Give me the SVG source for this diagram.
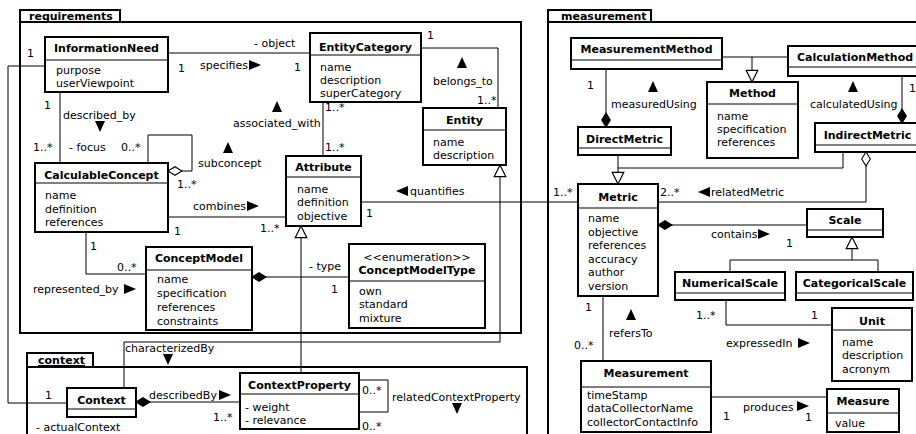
<svg xmlns="http://www.w3.org/2000/svg" width="916" height="434" viewBox="0 0 916 434">
<style>
.pk{fill:#fff;stroke:#000;stroke-width:2}
.bx{fill:#fff;stroke:#000;stroke-width:2}
.dv{stroke:#000;stroke-width:1.2}
.ln{fill:none;stroke:#000;stroke-width:1}
text{font-family:"DejaVu Sans","Noto Sans",sans-serif;font-size:11px;fill:#000}
.b{font-weight:bold}
.c{text-anchor:middle}
.u{text-decoration:underline}
.dir{fill:#000}
</style>
<defs>
<marker id="gen" markerUnits="userSpaceOnUse" markerWidth="14" markerHeight="14" viewBox="0 0 12 12" refX="11" refY="6" orient="auto" overflow="visible"><path d="M1,1 L11,6 L1,11 Z" fill="#fff" stroke="#000" stroke-width="1"/></marker>
<marker id="dia" markerUnits="userSpaceOnUse" markerWidth="15" markerHeight="11" viewBox="0 0 14 10" refX="13.5" refY="5" orient="auto" overflow="visible"><path d="M0.5,5 L7,1 L13.5,5 L7,9 Z" fill="#000" stroke="#000" stroke-width="1"/></marker>
<marker id="odia" markerUnits="userSpaceOnUse" markerWidth="15" markerHeight="11" viewBox="0 0 14 10" refX="13.5" refY="5" orient="auto" overflow="visible"><path d="M0.5,5 L7,1 L13.5,5 L7,9 Z" fill="#fff" stroke="#000" stroke-width="1"/></marker>
<path id="tR" d="M-6,-5 L6,0 L-6,5 Z"/>
<path id="tL" d="M6,-5 L-6,0 L6,5 Z"/>
<path id="tU" d="M-5,5 L0,-6 L5,5 Z"/>
<path id="tD" d="M-5,-5 L0,6 L5,-5 Z"/>
</defs>

<!-- packages -->
<g id="pkg-requirements">
<rect class="pk" x="20" y="10" width="100" height="12"/>
<rect class="pk" x="20" y="22" width="501" height="311"/>
<text class="b u" x="29" y="20">requirements</text>
</g>
<g id="pkg-measurement">
<rect class="pk" x="548" y="10" width="103" height="12"/>
<rect class="pk" x="548" y="22" width="400" height="430"/>
<text class="b u" x="561" y="20">measurement</text>
</g>
<g id="pkg-context">
<rect class="pk" x="27" y="353" width="66" height="14"/>
<rect class="pk" x="27" y="367" width="500" height="90"/>
<text class="b u" x="38" y="364">context</text>
</g>

<!-- connectors -->
<g id="connectors">
<path class="ln" d="M168,53 H310"/>
<path class="ln" d="M421,48 H498 V108"/>
<path class="ln" d="M323,102 V156"/>
<path class="ln" d="M60,92 V163"/>
<path class="ln" d="M148,163 V135 H192 V171 H168" marker-end="url(#odia)"/>
<path class="ln" d="M168,217 H286"/>
<path class="ln" d="M86,232 V274 H146"/>
<path class="ln" d="M349,277 H252" marker-end="url(#dia)"/>
<path class="ln" d="M361,202 H578"/>
<path class="ln" d="M45,66 H8 V403 H67"/>
<path class="ln" d="M124,388 V342 H500 V165" marker-end="url(#gen)"/>
<path class="ln" d="M301,373 V226" marker-end="url(#gen)"/>
<path class="ln" d="M240,402 H136" marker-end="url(#dia)"/>
<path class="ln" d="M359,380 H388 V412 H359"/>
<path class="ln" d="M722,57 H788"/>
<path class="ln" d="M752,57 V82" marker-end="url(#gen)"/>
<path class="ln" d="M606,69 V127" marker-end="url(#dia)"/>
<path class="ln" d="M902,76 V123" marker-end="url(#dia)"/>
<path class="ln" d="M618,155 V168 H843 V152"/>
<path class="ln" d="M618,168 V184" marker-end="url(#gen)"/>
<path class="ln" d="M658,202 H866 V152" marker-end="url(#odia)"/>
<path class="ln" d="M807,225 H658" marker-end="url(#dia)"/>
<path class="ln" d="M730,272 V260 H878 V272"/>
<path class="ln" d="M852,260 V237" marker-end="url(#gen)"/>
<path class="ln" d="M726,300 V325 H832"/>
<path class="ln" d="M603,296 V361"/>
<path class="ln" d="M711,397 H827"/>

<!-- connector labels -->
<text x="254" y="47">- object</text>
<text x="178" y="72">1</text>
<text x="200" y="69">specifies</text>
<use href="#tR" class="dir" x="255" y="65"/>
<text x="294" y="71">1</text>
<text x="427" y="39">1</text>
<use href="#tU" class="dir" x="462" y="63"/>
<text x="433" y="85">belongs_to</text>
<text x="477" y="104">1..*</text>
<text x="325" y="111">1..*</text>
<text x="325" y="151">1..*</text>
<use href="#tU" class="dir" x="277" y="107"/>
<text x="233" y="127">associated_with</text>
<text x="44" y="109">1</text>
<text x="63" y="119">described_by</text>
<use href="#tD" class="dir" x="100" y="126"/>
<text x="33" y="151">1..*</text>
<text x="69" y="151">- focus</text>
<text x="121" y="151">0..*</text>
<use href="#tU" class="dir" x="228" y="148"/>
<text x="198" y="167">subconcept</text>
<text x="177" y="188">1..*</text>
<text x="193" y="210">combines</text>
<use href="#tR" class="dir" x="253" y="206"/>
<text x="174" y="235">1</text>
<text x="260" y="232">1..*</text>
<text x="90" y="250">1</text>
<text x="117" y="271">0..*</text>
<text x="33" y="293">represented_by</text>
<use href="#tR" class="dir" x="130" y="289"/>
<text x="309" y="270">- type</text>
<text x="331" y="293">1</text>
<use href="#tL" class="dir" x="402" y="191"/>
<text x="410" y="195">quantifies</text>
<text x="366" y="217">1</text>
<text x="553" y="196">1..*</text>
<text x="27" y="57">1</text>
<text x="45" y="399">1</text>
<text x="36" y="431">- actualContext</text>
<text x="125" y="352">characterizedBy</text>
<use href="#tD" class="dir" x="168" y="359"/>
<text x="149" y="399">describedBy</text>
<use href="#tR" class="dir" x="225" y="395"/>
<text x="213" y="421">1..*</text>
<text x="362" y="394">0..*</text>
<text x="362" y="430">0..*</text>
<text x="392" y="401">relatedContextProperty</text>
<use href="#tD" class="dir" x="457" y="408"/>

<text x="587" y="89">1</text>
<use href="#tU" class="dir" x="653" y="87"/>
<text x="611" y="108">measuredUsing</text>
<text x="909" y="92">1</text>
<use href="#tU" class="dir" x="853" y="87"/>
<text x="810" y="108">calculatedUsing</text>
<text x="660" y="196">2..*</text>
<use href="#tL" class="dir" x="704" y="192"/>
<text x="711" y="196">relatedMetric</text>
<text x="711" y="238">contains</text>
<use href="#tR" class="dir" x="764" y="234"/>
<text x="786" y="247">1</text>
<text x="696" y="319">1..*</text>
<text x="811" y="319">1</text>
<text x="726" y="347">expressedIn</text>
<use href="#tR" class="dir" x="804" y="343"/>
<text x="585" y="311">1</text>
<text x="574" y="349">0..*</text>
<use href="#tU" class="dir" x="631" y="315"/>
<text x="609" y="337">refersTo</text>
<text x="723" y="420">1</text>
<text x="743" y="411">produces</text>
<use href="#tR" class="dir" x="803" y="406"/>
<text x="805" y="421">1</text>
</g>

<!-- requirements nodes -->
<g id="InformationNeed">
<rect class="bx" x="45" y="37" width="123" height="55"/>
<line class="dv" x1="45" y1="60" x2="168" y2="60"/>
<text class="b c" x="106.5" y="52">InformationNeed</text>
<text x="56" y="74">purpose</text>
<text x="56" y="87">userViewpoint</text>
</g>
<g id="EntityCategory">
<rect class="bx" x="310" y="33" width="111" height="69"/>
<line class="dv" x1="310" y1="55" x2="421" y2="55"/>
<text class="b c" x="365.5" y="51">EntityCategory</text>
<text x="320" y="71">name</text>
<text x="320" y="84">description</text>
<text x="320" y="97">superCategory</text>
</g>
<g id="Entity">
<rect class="bx" x="423" y="108" width="83" height="57"/>
<line class="dv" x1="423" y1="130" x2="506" y2="130"/>
<text class="b c" x="464.5" y="124">Entity</text>
<text x="433" y="146">name</text>
<text x="433" y="159">description</text>
</g>
<g id="Attribute">
<rect class="bx" x="286" y="156" width="75" height="70"/>
<line class="dv" x1="286" y1="177" x2="361" y2="177"/>
<text class="b c" x="323.5" y="171">Attribute</text>
<text x="297" y="193">name</text>
<text x="297" y="206">definition</text>
<text x="297" y="220">objective</text>
</g>
<g id="CalculableConcept">
<rect class="bx" x="35" y="163" width="133" height="69"/>
<line class="dv" x1="35" y1="183" x2="168" y2="183"/>
<text class="b c" x="101.5" y="179">CalculableConcept</text>
<text x="45" y="199">name</text>
<text x="45" y="213">definition</text>
<text x="45" y="226">references</text>
</g>
<g id="ConceptModel">
<rect class="bx" x="146" y="247" width="106" height="83"/>
<line class="dv" x1="146" y1="270" x2="252" y2="270"/>
<text class="b c" x="199" y="262">ConceptModel</text>
<text x="157" y="283">name</text>
<text x="157" y="297">specification</text>
<text x="157" y="311">references</text>
<text x="157" y="325">constraints</text>
</g>
<g id="ConceptModelType">
<rect class="bx" x="349" y="244" width="136" height="84"/>
<line class="dv" x1="349" y1="281" x2="485" y2="281"/>
<text class="c" x="417" y="261">&lt;&lt;enumeration&gt;&gt;</text>
<text class="b c" x="417" y="274">ConceptModelType</text>
<text x="359" y="295">own</text>
<text x="359" y="308">standard</text>
<text x="359" y="322">mixture</text>
</g>

<!-- context nodes -->
<g id="Context">
<rect class="bx" x="67" y="388" width="69" height="29"/>
<line class="dv" x1="67" y1="409" x2="136" y2="409"/>
<text class="b c" x="101.5" y="404">Context</text>
</g>
<g id="ContextProperty">
<rect class="bx" x="240" y="373" width="119" height="56"/>
<line class="dv" x1="240" y1="394" x2="359" y2="394"/>
<text class="b c" x="299.5" y="389">ContextProperty</text>
<text x="245" y="411">- weight</text>
<text x="245" y="424">- relevance</text>
</g>

<!-- measurement nodes -->
<g id="MeasurementMethod">
<rect class="bx" x="571" y="38" width="151" height="31"/>
<line class="dv" x1="571" y1="60" x2="722" y2="60"/>
<text class="b c" x="646.5" y="53">MeasurementMethod</text>
</g>
<g id="CalculationMethod">
<rect class="bx" x="788" y="46" width="140" height="30"/>
<line class="dv" x1="788" y1="67" x2="928" y2="67"/>
<text class="b c" x="855" y="61">CalculationMethod</text>
</g>
<g id="Method">
<rect class="bx" x="707" y="82" width="91" height="76"/>
<line class="dv" x1="707" y1="104" x2="798" y2="104"/>
<text class="b c" x="752.5" y="97">Method</text>
<text x="717" y="120">name</text>
<text x="717" y="133">specification</text>
<text x="717" y="146">references</text>
</g>
<g id="DirectMetric">
<rect class="bx" x="578" y="127" width="93" height="28"/>
<line class="dv" x1="578" y1="148" x2="671" y2="148"/>
<text class="b c" x="624.5" y="143">DirectMetric</text>
</g>
<g id="IndirectMetric">
<rect class="bx" x="815" y="123" width="110" height="29"/>
<line class="dv" x1="815" y1="145" x2="925" y2="145"/>
<text class="b c" x="867.5" y="139">IndirectMetric</text>
</g>
<g id="Metric">
<rect class="bx" x="578" y="184" width="80" height="112"/>
<line class="dv" x1="578" y1="208" x2="658" y2="208"/>
<text class="b c" x="618" y="201">Metric</text>
<text x="588" y="222">name</text>
<text x="588" y="235.6">objective</text>
<text x="588" y="249.2">references</text>
<text x="588" y="262.8">accuracy</text>
<text x="588" y="276.4">author</text>
<text x="588" y="290">version</text>
</g>
<g id="Scale">
<rect class="bx" x="807" y="209" width="76" height="28"/>
<line class="dv" x1="807" y1="230" x2="883" y2="230"/>
<text class="b c" x="845" y="224">Scale</text>
</g>
<g id="NumericalScale">
<rect class="bx" x="675" y="272" width="110" height="28"/>
<line class="dv" x1="675" y1="293" x2="785" y2="293"/>
<text class="b c" x="730" y="287">NumericalScale</text>
</g>
<g id="CategoricalScale">
<rect class="bx" x="796" y="272" width="117" height="28"/>
<line class="dv" x1="796" y1="293" x2="913" y2="293"/>
<text class="b c" x="854.5" y="287">CategoricalScale</text>
</g>
<g id="Unit">
<rect class="bx" x="832" y="308" width="80" height="73"/>
<line class="dv" x1="832" y1="330" x2="912" y2="330"/>
<text class="b c" x="872" y="325">Unit</text>
<text x="842" y="346">name</text>
<text x="842" y="359">description</text>
<text x="842" y="373">acronym</text>
</g>
<g id="Measurement">
<rect class="bx" x="581" y="361" width="130" height="71"/>
<line class="dv" x1="581" y1="387" x2="711" y2="387"/>
<text class="b c" x="646" y="377">Measurement</text>
<text x="587" y="399">timeStamp</text>
<text x="587" y="412">dataCollectorName</text>
<text x="587" y="426">collectorContactInfo</text>
</g>
<g id="Measure">
<rect class="bx" x="827" y="389" width="72" height="43"/>
<line class="dv" x1="827" y1="413" x2="899" y2="413"/>
<text class="b c" x="863" y="405">Measure</text>
<text x="835" y="427">value</text>
</g>
</svg>
